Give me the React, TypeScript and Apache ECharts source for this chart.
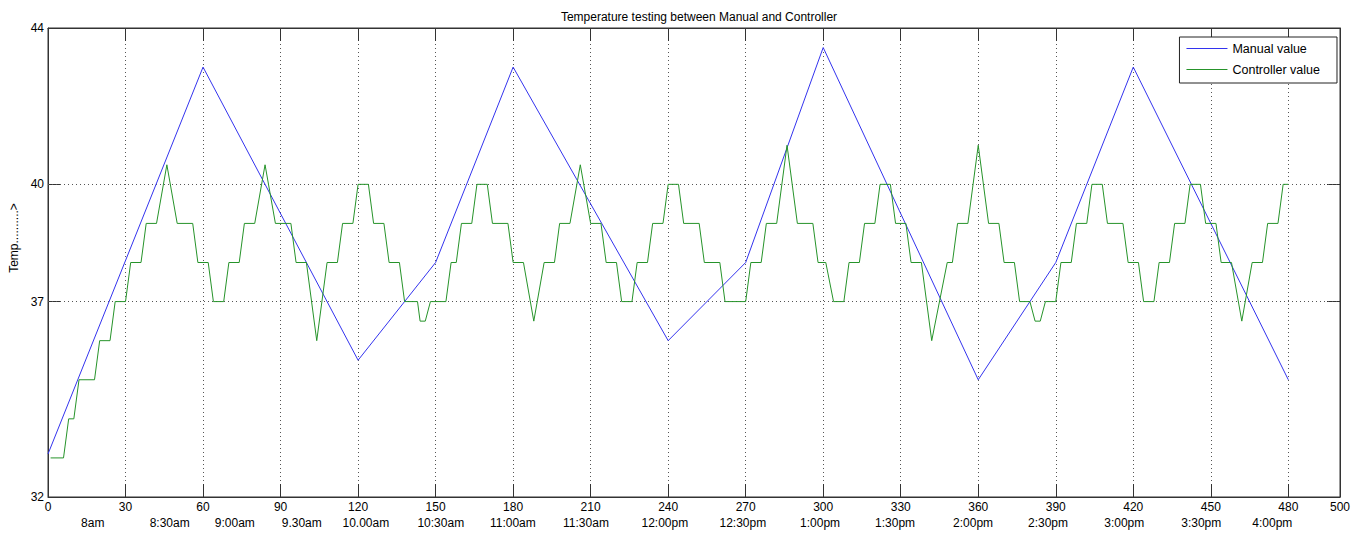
import React, { useEffect, useRef } from "react";
import * as echarts from "echarts";

const chartTitle = "Temperature testing between Manual and Controller";
const yAxisTitle = "Temp..........>";
const seriesNames = ["Manual value", "Controller value"];

const yTicks = [32, 37, 40, 44];
const yGridLines = [37, 40];

const timeLabels = [
  "8am", "8:30am", "9:00am", "9.30am", "10.00am", "10:30am", "11:00am", "11:30am",
  "12:00pm", "12:30pm", "1:00pm", "1:30pm", "2:00pm", "2:30pm", "3:00pm", "3:30pm", "4:00pm",
];
const timePositions = [
  17.3, 47.1, 72.3, 98.2, 123, 152, 179.9, 208.2, 238.7, 268.9, 298.8, 327.8, 358, 387, 416.5, 446.3, 473.8,
];

const manualValue: [number, number][] = [
  [0, 33.1], [60, 43], [120, 35.5], [150, 38], [180, 43], [240, 36],
  [270, 38], [300, 43.5], [360, 35], [390, 38], [420, 43], [480, 35],
];

const controllerValue: [number, number][] = [
  [1, 33], [6, 33], [8, 34], [10, 34], [12, 35], [18, 35], [20, 36], [24, 36],
  [26, 37], [30, 37], [32, 38], [36, 38], [38, 39], [42, 39], [46, 40.5], [50, 39],
  [56, 39], [58, 38], [62, 38], [64, 37], [68, 37], [70, 38], [74, 38], [76, 39],
  [80, 39], [84, 40.5], [88, 39], [94, 39], [96, 38], [100, 38], [104, 36], [108, 38],
  [112, 38], [114, 39], [118, 39], [120, 40], [124, 40], [126, 39], [130, 39], [132, 38],
  [136, 38], [138, 37], [143, 37], [144, 36.5], [146, 36.5], [148, 37], [154, 37], [156, 38],
  [158, 38], [160, 39], [164, 39], [166, 40], [170, 40], [172, 39], [178, 39], [180, 38],
  [184, 38], [188, 36.5], [192, 38], [196, 38], [198, 39], [202, 39], [206, 40.5], [210, 39],
  [214, 39], [216, 38], [220, 38], [222, 37], [226, 37], [228, 38], [232, 38], [234, 39],
  [238, 39], [240, 40], [244, 40], [246, 39], [252, 39], [254, 38], [260, 38], [262, 37],
  [270, 37], [272, 38], [276, 38], [278, 39], [282, 39], [286, 41], [290, 39], [296, 39],
  [298, 38], [301, 38], [304, 37], [308, 37], [310, 38], [314, 38], [316, 39], [320, 39],
  [322, 40], [326, 40], [328, 39], [332, 39], [334, 38], [338, 38], [342, 36], [348, 38],
  [350, 38], [352, 39], [356, 39], [360, 41], [364, 39], [368, 39], [370, 38], [374, 38],
  [376, 37], [380, 37], [382, 36.5], [384, 36.5], [386, 37], [390, 37], [392, 38], [396, 38],
  [398, 39], [402, 39], [404, 40], [408, 40], [410, 39], [416, 39], [418, 38], [422, 38],
  [424, 37], [428, 37], [430, 38], [434, 38], [436, 39], [440, 39], [442, 40], [446, 40],
  [448, 39], [452, 39], [454, 38], [458, 38], [462, 36.5], [466, 38], [470, 38], [472, 39],
  [476, 39], [478, 40], [480, 40],
];

const FONT = "'Liberation Sans', Arial, Helvetica, sans-serif";
const AXIS_COLOR = "#333";
const GRID_DOT = { type: [1, 3] as number[], color: "#555", width: 1 };

export default function App() {
  const ref = useRef<HTMLDivElement>(null);

  useEffect(() => {
    if (!ref.current) return;
    const chart = echarts.init(ref.current, null, { renderer: "svg" });

    const baseX = {
      type: "value" as const,
      min: 0,
      max: 500,
      interval: 30,
      axisLine: { show: true, onZero: false, lineStyle: { color: AXIS_COLOR, width: 1 } },
      axisTick: { show: true, inside: true, length: 13, lineStyle: { color: AXIS_COLOR } },
    };

    const baseY = {
      type: "value" as const,
      min: 32,
      max: 44,
      axisLine: { show: true, onZero: false, lineStyle: { color: AXIS_COLOR, width: 1 } },
      axisTick: { show: true, inside: true, length: 13, customValues: yTicks, lineStyle: { color: AXIS_COLOR } },
      splitLine: { show: false },
    };

    chart.setOption({
      animation: false,
      backgroundColor: "#fff",
      textStyle: { fontFamily: FONT },
      title: {
        text: chartTitle,
        left: 694,
        textAlign: "center",
        top: 6,
        textStyle: { fontSize: 12, fontWeight: "normal", color: "#000", fontFamily: FONT },
      },
      grid: {
        left: 48,
        top: 28,
        width: 1292,
        height: 469,
        show: true,
        borderColor: AXIS_COLOR,
        borderWidth: 1,
        backgroundColor: "transparent",
      },
      legend: {
        orient: "vertical",
        right: 27,
        top: 37,
        data: seriesNames,
        icon: "rect",
        itemWidth: 41,
        itemHeight: 1.2,
        itemGap: 8,
        padding: [5, 17, 7, 7],
        borderColor: "#222",
        borderWidth: 1,
        backgroundColor: "#fff",
        textStyle: { fontSize: 12.5, color: "#000", fontFamily: FONT, padding: [0, 0, 0, 0] },
      },
      xAxis: [
        {
          ...baseX,
          position: "bottom",
          axisLabel: { show: true, color: "#000", fontSize: 12, margin: 4, fontFamily: FONT },
          splitLine: { show: true, lineStyle: GRID_DOT },
        },
        {
          ...baseX,
          position: "top",
          axisLabel: { show: false },
          splitLine: { show: false },
        },
        {
          type: "value",
          min: 0,
          max: 500,
          position: "bottom",
          offset: 16,
          axisLine: { show: false },
          axisTick: { show: false },
          splitLine: { show: false },
          axisLabel: {
            show: true,
            customValues: timePositions,
            color: "#000",
            fontSize: 12,
            margin: 4,
            fontFamily: FONT,
            formatter: (v: number) => {
              let best = 0;
              for (let i = 1; i < timePositions.length; i++) {
                if (Math.abs(timePositions[i] - v) < Math.abs(timePositions[best] - v)) best = i;
              }
              return timeLabels[best];
            },
          },
        },
      ],
      yAxis: [
        {
          ...baseY,
          position: "left",
          axisLabel: { show: true, customValues: yTicks, color: "#000", fontSize: 12, margin: 4, fontFamily: FONT },
        },
        {
          ...baseY,
          position: "right",
          axisLabel: { show: false },
        },
      ],
      graphic: [
        {
          type: "text",
          x: 14,
          y: 238,
          rotation: Math.PI / 2,
          style: {
            text: yAxisTitle,
            fill: "#000",
            fontSize: 12,
            fontFamily: FONT,
            textAlign: "center",
            textVerticalAlign: "middle",
          },
        },
      ],
      series: [
        {
          name: seriesNames[0],
          type: "line",
          xAxisIndex: 0,
          yAxisIndex: 0,
          data: manualValue,
          symbol: "none",
          lineStyle: { color: "#3333ee", width: 1 },
          itemStyle: { color: "#3333ee" },
          z: 3,
          markLine: {
            silent: true,
            symbol: "none",
            label: { show: false },
            lineStyle: GRID_DOT,
            data: yGridLines.map((v) => ({ yAxis: v })),
            z: 1,
          },
        },
        {
          name: seriesNames[1],
          type: "line",
          xAxisIndex: 0,
          yAxisIndex: 0,
          data: controllerValue,
          symbol: "none",
          lineStyle: { color: "#26932a", width: 1 },
          itemStyle: { color: "#26932a" },
          z: 4,
        },
      ],
    });

    return () => chart.dispose();
  }, []);

  return (
    <div
      ref={ref}
      style={{ position: "fixed", left: 0, top: 0, width: 1364, height: 538, background: "#fff" }}
    />
  );
}
